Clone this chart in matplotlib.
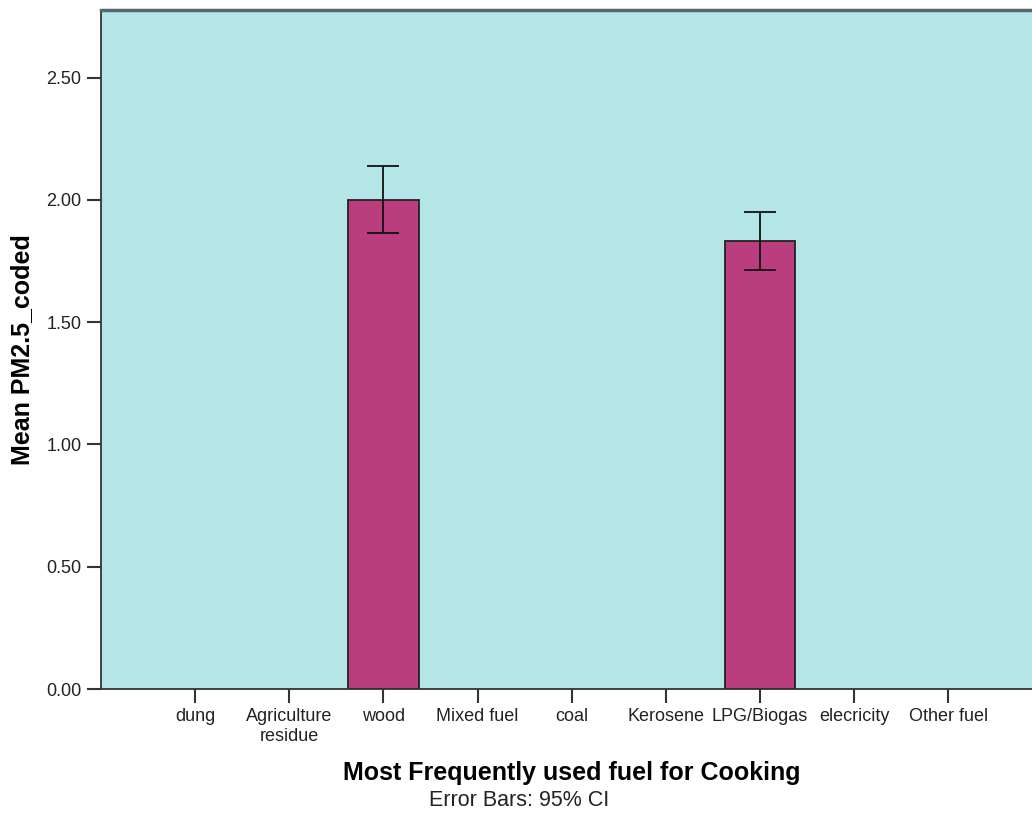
import numpy as np
import matplotlib.pyplot as plt

plt.rcParams['font.family'] = ['Liberation Sans', 'DejaVu Sans']

categories = ['dung', 'Agriculture\nresidue', 'wood', 'Mixed fuel', 'coal',
              'Kerosene', 'LPG/Biogas', 'elecricity', 'Other fuel']
means = [np.nan, np.nan, 2.00, np.nan, np.nan, np.nan, 1.832, np.nan, np.nan]
ci_low = [np.nan, np.nan, 1.864, np.nan, np.nan, np.nan, 1.714, np.nan, np.nan]
ci_high = [np.nan, np.nan, 2.139, np.nan, np.nan, np.nan, 1.950, np.nan, np.nan]
yticks = [0.0, 0.5, 1.0, 1.5, 2.0, 2.5]

means = np.array(means)
lo = means - np.array(ci_low)
hi = np.array(ci_high) - means
x = np.arange(1, len(categories) + 1)

W, H = 1032, 836
fig = plt.figure(figsize=(W / 100, H / 100), dpi=100)
ax = fig.add_axes([101 / W, 1 - 689 / H, 1 - 101 / W, (689 - 10) / H])
ax.set_facecolor('#b4e6e7')

ok = ~np.isnan(means)
ax.bar(x[ok], means[ok], width=0.75, color='#ba3d7d', edgecolor='#222222', linewidth=1.3, zorder=2)
ax.errorbar(x[ok], means[ok], yerr=[lo[ok], hi[ok]], fmt='none', ecolor='#111111',
            elinewidth=1.3, capsize=11.5, capthick=1.3, zorder=3)

ax.set_xlim(0, 9.89)
ax.set_ylim(0, 2.777)
ax.set_xticks(x)
ax.set_xticklabels(categories, fontsize=13, color='#222222', linespacing=1.2)
ax.set_yticks(yticks)
ax.set_yticklabels(['%.2f' % v for v in yticks], fontsize=13, color='#222222')
ax.tick_params(axis='both', length=10, width=1.5, color='#333333', pad=4)

for s in ['left', 'bottom']:
    ax.spines[s].set_color('#333333')
    ax.spines[s].set_linewidth(1.3)
ax.spines['top'].set_color('#55686a')
ax.spines['top'].set_linewidth(2.5)
ax.spines['right'].set_visible(False)

fig.text(22 / W, 1 - 350 / H, 'Mean PM2.5_coded', rotation=90, ha='center', va='center',
         fontsize=18, fontweight='bold')
fig.text(572 / W, 1 - 773 / H, 'Most Frequently used fuel for Cooking', ha='center', va='center',
         fontsize=18, fontweight='bold')
fig.text(519 / W, 1 - 801 / H, 'Error Bars: 95% CI', ha='center', va='center',
         fontsize=15.5, color='#222222')

fig.savefig('out.png', dpi=100)
